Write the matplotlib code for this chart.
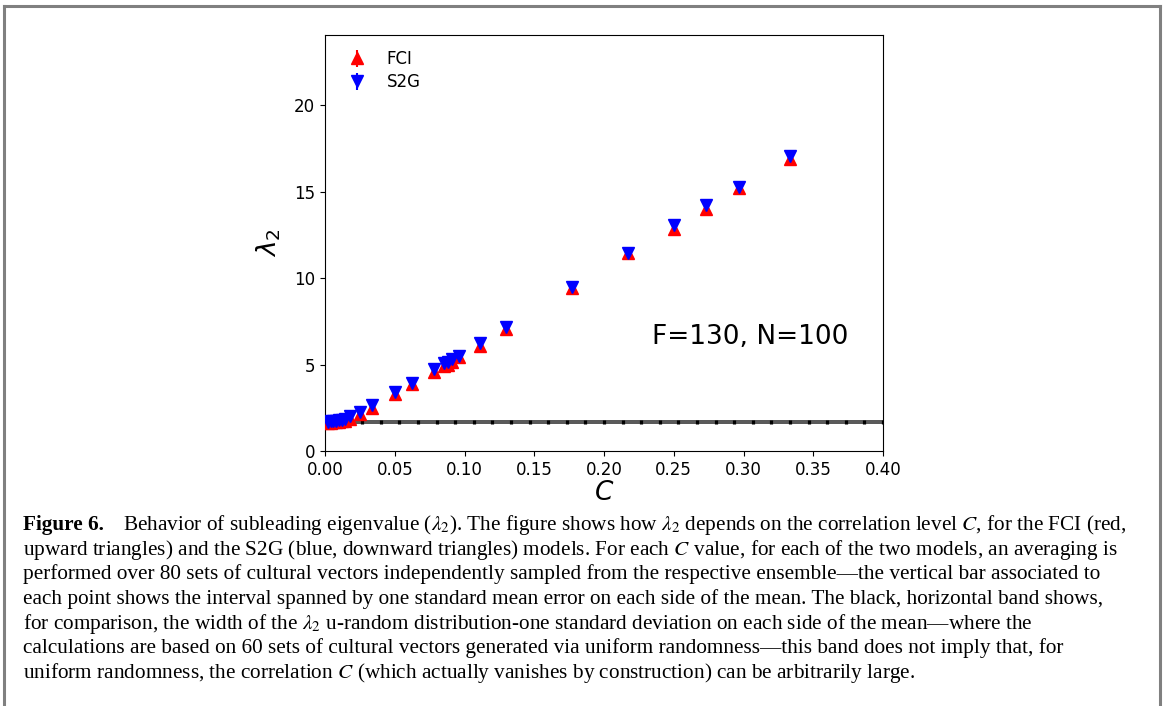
import numpy as np
import matplotlib
matplotlib.use('Agg')
import matplotlib.pyplot as plt
from matplotlib.lines import Line2D

# correlation level C for each ensemble
c_vals = [0.002, 0.004, 0.006, 0.008, 0.010, 0.012, 0.014, 0.018, 0.025, 0.034,
          0.050, 0.062, 0.078, 0.085, 0.088, 0.091, 0.096, 0.111, 0.130, 0.177,
          0.217, 0.250, 0.273, 0.297, 0.333]

# mean lambda_2 and standard mean error, FCI model
fci_mean = [1.62, 1.63, 1.65, 1.67, 1.70, 1.72, 1.76, 1.85, 2.14, 2.50,
            3.28, 3.85, 4.55, 4.92, 4.97, 5.15, 5.41, 6.09, 7.08, 9.45,
            11.43, 12.85, 13.98, 15.22, 16.88]
fci_err = [0.03, 0.03, 0.03, 0.03, 0.04, 0.04, 0.04, 0.05, 0.05, 0.06,
           0.07, 0.07, 0.08, 0.08, 0.08, 0.08, 0.09, 0.09, 0.10, 0.12,
           0.14, 0.14, 0.15, 0.18, 0.16]

# mean lambda_2 and standard mean error, S2G model
s2g_mean = [1.70, 1.72, 1.74, 1.76, 1.79, 1.82, 1.86, 2.00, 2.27, 2.66,
            3.39, 3.91, 4.72, 5.10, 5.16, 5.32, 5.51, 6.24, 7.14, 9.50,
            11.46, 13.08, 14.22, 15.25, 17.08]
s2g_err = [0.03, 0.03, 0.03, 0.03, 0.04, 0.04, 0.04, 0.05, 0.05, 0.06,
           0.07, 0.07, 0.08, 0.08, 0.08, 0.08, 0.09, 0.09, 0.10, 0.12,
           0.13, 0.14, 0.15, 0.15, 0.16]

# u-random reference: mean and one standard deviation
urand_mean = 1.68
urand_std = 0.1

xticks = [0.00, 0.05, 0.10, 0.15, 0.20, 0.25, 0.30, 0.35, 0.40]
yticks = [0, 5, 10, 15, 20]

fig = plt.figure(figsize=(11.68, 7.06), dpi=100)
ax = fig.add_axes([0.2783, 0.3612, 0.4777, 0.5892])

# horizontal band for the u-random distribution
band_x = np.linspace(0, 0.4, 31)
ax.fill_between(band_x, urand_mean - urand_std, urand_mean + urand_std,
                color='#5a5a5a', lw=0, zorder=1)
ax.errorbar(band_x, [urand_mean] * len(band_x), yerr=urand_std, fmt='none',
            ecolor='black', elinewidth=2.3, zorder=1)

ax.errorbar(c_vals, fci_mean, yerr=fci_err, fmt='^', color='red',
            ms=9, elinewidth=1.5, label='FCI', zorder=3)
ax.errorbar(c_vals, s2g_mean, yerr=s2g_err, fmt='v', color='blue',
            ms=9, elinewidth=1.5, label='S2G', zorder=4)

ax.text(0.305, 6.6, 'F=130, N=100', fontsize=19, ha='center', va='center')

ax.set_xlim(0, 0.4)
ax.set_ylim(0, 24.05)
ax.set_xticks(xticks)
ax.set_xticklabels(['%.2f' % t for t in xticks])
ax.set_yticks(yticks)
ax.tick_params(labelsize=12)
ax.set_xlabel('$C$', fontsize=19, labelpad=1)
ax.set_ylabel(r'$\lambda_2$', fontsize=19, labelpad=8)
ax.legend(loc='upper left', frameon=False, fontsize=12, handletextpad=0.8,
          labelspacing=0.3, borderaxespad=0.5)

# page frame around figure and caption
frame = dict(color='#808080', lw=2.2, transform=fig.transFigure)
fig.add_artist(Line2D([0.003, 0.003], [0.0, 0.992], **frame))
fig.add_artist(Line2D([0.9935, 0.9935], [0.0, 0.992], **frame))
fig.add_artist(Line2D([0.003, 0.9935], [0.992, 0.992], **frame))

cap = dict(fontsize=15.3, family='Liberation Serif', math_fontfamily='stix',
           va='baseline', ha='left')
lines = [
    r'Behavior of subleading eigenvalue ($\lambda_2$). The figure shows how $\lambda_2$ depends on the correlation level $C$, for the FCI (red,',
    r'upward triangles) and the S2G (blue, downward triangles) models. For each $C$ value, for each of the two models, an averaging is',
    'performed over 80 sets of cultural vectors independently sampled from the respective ensemble\u2014the vertical bar associated to',
    'each point shows the interval spanned by one standard mean error on each side of the mean. The black, horizontal band shows,',
    r'for comparison, the width of the $\lambda_2$ u-random distribution-one standard deviation on each side of the mean' + '\u2014where the',
    'calculations are based on 60 sets of cultural vectors generated via uniform randomness\u2014this band does not imply that, for',
    r'uniform randomness, the correlation $C$ (which actually vanishes by construction) can be arbitrarily large.',
]
fig.text(23 / 1168, 1 - 530 / 706, 'Figure 6.', fontweight='bold', **cap)
for i, line in enumerate(lines):
    x0 = 123 / 1168 if i == 0 else 23 / 1168
    fig.text(x0, 1 - (530 + 24.7 * i) / 706, line, **cap)

fig.savefig('out.png', dpi=100)
